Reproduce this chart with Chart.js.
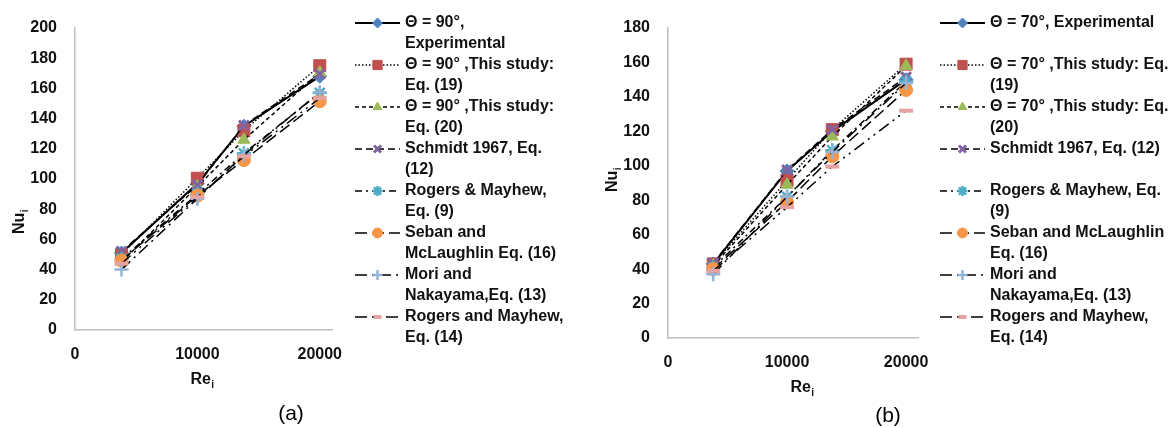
<!DOCTYPE html>
<html>
<head>
<meta charset="utf-8">
<script src="https://cdn.jsdelivr.net/npm/chart.js@4.4.1/dist/chart.umd.min.js"></script>
<style>
  html, body { margin: 0; padding: 0; background: #fff; }
  #wrap { position: relative; width: 1175px; height: 427px; overflow: hidden; }
  .pane { position: absolute; top: 0; height: 427px; }
  #pa { left: 0; width: 590px; }
  #pb { left: 590px; width: 585px; }
  .cap { position: absolute; font: 21px "Liberation Sans", Arial, sans-serif; color: #000;
         transform: translate(-50%, -50%); white-space: nowrap; }
</style>
</head>
<body>
<div id="wrap">
  <div class="pane" id="pa"><canvas id="ca" width="590" height="427"></canvas></div>
  <div class="pane" id="pb"><canvas id="cb" width="585" height="427"></canvas></div>
  <div class="cap" style="left:291px; top:413px;">(a)</div>
  <div class="cap" style="left:888px; top:415px;">(b)</div>
</div>
<script>
// Inlet Reynolds numbers shared by both panels
const reynolds = [3800, 10000, 13800, 20000];
const xTicks = [0, 10000, 20000];
const xMax = 21000;
const yStep = 20;

// Panel (a): θ = 90°
const yMaxA = 200;
const exp90 = [51, 97, 135, 168];
const eq19_90 = [50, 100.5, 132, 175];
const eq20_90 = [45, 95, 126, 170.5];
const schmidt90 = [52, 96, 135.5, 169.5];
const rogersEq9_90 = [47, 90, 117, 157];
const seban90 = [46, 89, 112.5, 151.5];
const mori90 = [40, 87, 116, 157.5];
const rogersEq14_90 = [44, 88, 115, 153.5];
const legendA = [
  ["Θ = 90°,", "Experimental"],
  ["Θ = 90° ,This study:", "Eq. (19)"],
  ["Θ = 90° ,This study:", "Eq. (20)"],
  ["Schmidt 1967, Eq.", "(12)"],
  ["Rogers & Mayhew,", "Eq. (9)"],
  ["Seban and", "McLaughlin Eq. (16)"],
  ["Mori and", "Nakayama,Eq. (13)"],
  ["Rogers and Mayhew,", "Eq. (14)"]
];

// Panel (b): θ = 70°
const yMaxB = 180;
const exp70 = [43, 97, 120, 150];
const eq19_70 = [43, 91.5, 121, 159];
const eq20_70 = [42, 89, 117, 158];
const schmidt70 = [43.5, 97.5, 121, 151.5];
const rogersEq9_70 = [41, 82, 109, 149];
const seban70 = [40, 79, 105.5, 144];
const mori70 = [37, 82, 108, 148];
const rogersEq14_70 = [39, 76, 99.5, 132];
const legendB = [
  ["Θ = 70°, Experimental"],
  ["Θ = 70° ,This study: Eq.", "(19)"],
  ["Θ = 70° ,This study: Eq.", "(20)"],
  ["Schmidt 1967, Eq. (12)"],
  ["Rogers & Mayhew, Eq.", "(9)"],
  ["Seban and McLaughlin", "Eq. (16)"],
  ["Mori and", "Nakayama,Eq. (13)"],
  ["Rogers and Mayhew,", "Eq. (14)"]
];

// Line / marker style for each correlation, in series order
// (radius = plot marker size, lr = legend marker size)
const seriesStyles = [
  { pointStyle: 'rectRot',  color: '#4F81BD', radius: 7,   lr: 5,   pbw: 1,   width: 2,   dash: [] },
  { pointStyle: 'rect',     color: '#C0504D', radius: 8.5, lr: 6.5, pbw: 1,   width: 1.5, dash: [1.5, 2] },
  { pointStyle: 'triangle', color: '#9BBB59', radius: 7,   lr: 5,   pbw: 1,   width: 1.5, dash: [4, 3] },
  { pointStyle: 'crossRot', color: '#8064A2', radius: 7,   lr: 5,   pbw: 3,   width: 1.5, dash: [7, 4] },
  { pointStyle: 'star',     color: '#4BACC6', radius: 7,   lr: 5,   pbw: 2.5, width: 1.5, dash: [7, 4, 2, 4] },
  { pointStyle: 'circle',   color: '#F79646', radius: 6.5, lr: 5,   pbw: 1,   width: 1.5, dash: [12, 5] },
  { pointStyle: 'cross',    color: '#95B3D7', radius: 7,   lr: 5,   pbw: 2.5, width: 1.5, dash: [12, 5, 2, 5] },
  { pointStyle: 'line',     color: '#E6A3A1', radius: 7,   lr: 4,   pbw: 4,   width: 1.5, dash: [12, 5, 2, 5, 2, 5] }
];

const FONT = '"Liberation Sans", Arial, sans-serif';
const INK = '#111';

function drawSubscripted(ctx, base, sub, x, y, rotate) {
  ctx.save();
  ctx.translate(x, y);
  if (rotate) ctx.rotate(-Math.PI / 2);
  ctx.fillStyle = INK;
  ctx.textAlign = 'left';
  ctx.textBaseline = 'alphabetic';
  ctx.font = 'bold 16px ' + FONT;
  const w1 = ctx.measureText(base).width;
  ctx.font = 'bold 10px ' + FONT;
  const w2 = ctx.measureText(sub).width;
  const x0 = -(w1 + w2) / 2;
  ctx.font = 'bold 16px ' + FONT;
  ctx.fillText(base, x0, 6);
  ctx.font = 'bold 10px ' + FONT;
  ctx.fillText(sub, x0 + w1 + 0.5, 10);
  ctx.restore();
}

// Axis titles with subscripts and a two-line side legend
const decorPlugin = {
  id: 'decor',
  afterDraw(chart, args, o) {
    const ctx = chart.ctx;
    drawSubscripted(ctx, 'Nu', 'i', o.yTitle.x, o.yTitle.y, true);
    drawSubscripted(ctx, 'Re', 'i', o.xTitle.x, o.xTitle.y, false);

    const lg = o.legend;
    chart.data.datasets.forEach((ds, i) => {
      const y = lg.top + i * lg.entryGap;
      ctx.save();
      ctx.strokeStyle = '#000';
      ctx.lineWidth = ds.borderWidth;
      ctx.setLineDash(ds.borderDash || []);
      ctx.beginPath();
      ctx.moveTo(lg.x0, y);
      ctx.lineTo(lg.x1, y);
      ctx.stroke();
      ctx.setLineDash([]);
      ctx.fillStyle = ds.pointBackgroundColor;
      ctx.strokeStyle = ds.pointBorderColor;
      ctx.lineWidth = ds.pointBorderWidth;
      Chart.helpers.drawPoint(ctx, {
        pointStyle: ds.pointStyle, rotation: 0,
        radius: ds.legendMarker, borderWidth: ds.pointBorderWidth
      }, (lg.x0 + lg.x1) / 2, y);
      ctx.fillStyle = INK;
      ctx.font = 'bold 16px ' + FONT;
      ctx.textAlign = 'left';
      ctx.textBaseline = 'middle';
      ds.legendLines.forEach((t, j) => ctx.fillText(t, lg.textX, y + j * lg.lineGap));
      ctx.restore();
    });
  }
};

function makeChart(canvasId, series, legendLines, yMax, area, deco) {
  const canvas = document.getElementById(canvasId);
  const W = canvas.width, H = canvas.height;
  const xAxisH = 40;
  const datasets = series.map((vals, i) => {
    const st = seriesStyles[i];
    return {
      label: legendLines[i].join(' '),
      legendLines: legendLines[i],
      legendMarker: st.lr,
      data: reynolds.map((x, k) => ({ x: x, y: vals[k] })),
      borderColor: '#000',
      borderWidth: st.width,
      borderDash: st.dash,
      pointStyle: st.pointStyle,
      pointRadius: st.radius,
      pointHoverRadius: st.radius,
      pointBackgroundColor: st.color,
      pointBorderColor: st.color,
      pointBorderWidth: st.pbw,
      fill: false,
      tension: 0,
      clip: false,
      order: series.length - i
    };
  });
  const axisBorder = { display: true, color: '#BFBFBF', width: 1.5 };
  const tickFont = { family: FONT, size: 16, weight: 'bold' };
  return new Chart(canvas, {
    type: 'line',
    data: { datasets },
    plugins: [decorPlugin],
    options: {
      responsive: false,
      animation: false,
      events: [],
      layout: { padding: { left: 0, top: area.top, right: W - area.right, bottom: H - area.bottom - xAxisH } },
      plugins: {
        legend: { display: false },
        tooltip: { enabled: false },
        decor: deco
      },
      scales: {
        x: {
          type: 'linear', min: 0, max: xMax,
          afterBuildTicks: s => { s.ticks = xTicks.map(v => ({ value: v })); },
          afterFit: s => { s.height = xAxisH; },
          grid: { display: false, drawTicks: false },
          border: axisBorder,
          ticks: { padding: 15, font: tickFont, color: INK, maxRotation: 0, callback: v => String(v) }
        },
        y: {
          type: 'linear', min: 0, max: yMax,
          afterFit: s => { s.width = area.left; },
          grid: { display: false, drawTicks: false },
          border: axisBorder,
          ticks: { stepSize: yStep, padding: 18, font: tickFont, color: INK, callback: v => String(v) }
        }
      }
    }
  });
}

makeChart('ca',
  [exp90, eq19_90, eq20_90, schmidt90, rogersEq9_90, seban90, mori90, rogersEq14_90],
  legendA, yMaxA,
  { left: 75, right: 332, top: 28, bottom: 330 },
  {
    yTitle: { x: 18, y: 222 },
    xTitle: { x: 202, y: 378 },
    legend: { x0: 355, x1: 400, textX: 405, top: 23, entryGap: 42, lineGap: 21 }
  });

makeChart('cb',
  [exp70, eq19_70, eq20_70, schmidt70, rogersEq9_70, seban70, mori70, rogersEq14_70],
  legendB, yMaxB,
  { left: 78, right: 328, top: 28, bottom: 338 },
  {
    yTitle: { x: 21, y: 180 },
    xTitle: { x: 212, y: 386 },
    legend: { x0: 350, x1: 395, textX: 400, top: 23, entryGap: 42, lineGap: 21 }
  });
</script>
</body>
</html>
